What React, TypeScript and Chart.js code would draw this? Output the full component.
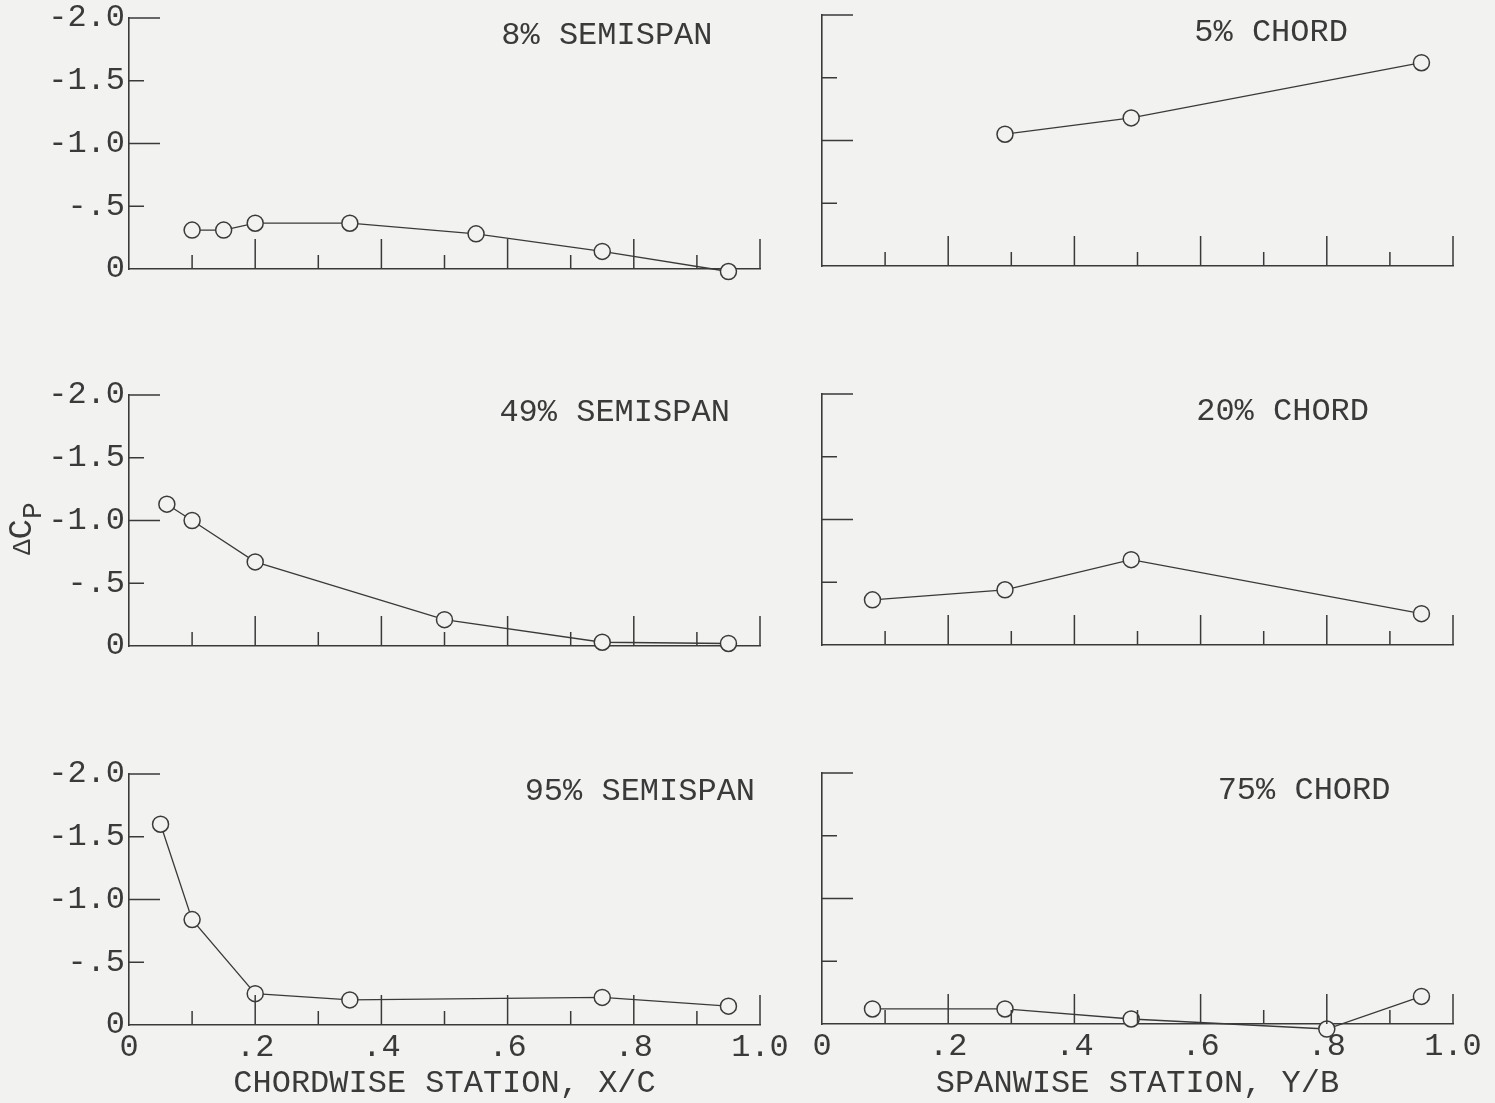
import React, { useEffect, useRef } from 'react';
import { Chart, registerables } from 'chart.js';

Chart.register(...registerables);

const BG = '#f2f2f0';
const INK = '#3a3a3a';
const FONT = '"Liberation Mono", "DejaVu Sans Mono", monospace';

// Axis ticks (values and printed labels)
const Y_TICK_VALUES = [-2, -1.5, -1, -0.5, 0];
const Y_TICK_LABELS = ['-2.0', '-1.5', '-1.0', '-.5', '0'];
const X_TICK_VALUES = [0, 0.2, 0.4, 0.6, 0.8, 1.0];
const X_TICK_LABELS = ['0', '.2', '.4', '.6', '.8', '1.0'];

// Chordwise distributions (x/c, delta Cp)
const CHORD_8 = [0.10, 0.15, 0.20, 0.35, 0.55, 0.75, 0.95];
const DCP_8 = [-0.31, -0.31, -0.365, -0.365, -0.28, -0.14, 0.02];
const CHORD_49 = [0.06, 0.10, 0.20, 0.50, 0.75, 0.95];
const DCP_49 = [-1.13, -1.0, -0.67, -0.21, -0.03, -0.02];
const CHORD_95 = [0.05, 0.10, 0.20, 0.35, 0.75, 0.95];
const DCP_95 = [-1.6, -0.84, -0.25, -0.2, -0.22, -0.15];

// Spanwise distributions (y/b, delta Cp)
const SPAN_5 = [0.29, 0.49, 0.95];
const DCP_5 = [-1.05, -1.18, -1.62];
const SPAN_20 = [0.08, 0.29, 0.49, 0.95];
const DCP_20 = [-0.36, -0.44, -0.68, -0.25];
const SPAN_75 = [0.08, 0.29, 0.49, 0.80, 0.95];
const DCP_75 = [-0.12, -0.12, -0.04, 0.04, -0.22];

const X_TITLE_LEFT = 'CHORDWISE STATION, X/C';
const X_TITLE_RIGHT = 'SPANWISE STATION, Y/B';
const Y_TITLE = ['\u0394', 'C', 'P'];

const AREA_W = 631;
const AREA_H = 251;
const PAD_TOP = 40;
const PAD_RIGHT = 40;
const MAJOR_LEN = 30;
const MINOR_LEN = 14;

type PanelDef = {
  title: string;
  xs: number[];
  ys: number[];
  canvasLeft: number;
  areaLeft: number;
  areaTop: number;
  last: boolean;
  yLabels: boolean;
  xTitle: string;
  titleAt: number;
  yTitle?: boolean;
};

const PANELS: PanelDef[] = [
  { title: '8% SEMISPAN', xs: CHORD_8, ys: DCP_8, canvasLeft: 0, areaLeft: 129, areaTop: 18, last: false, yLabels: true, xTitle: '', titleAt: 0.59 },
  { title: '5% CHORD', xs: SPAN_5, ys: DCP_5, canvasLeft: 780, areaLeft: 822, areaTop: 15, last: false, yLabels: false, xTitle: '', titleAt: 0.59 },
  { title: '49% SEMISPAN', xs: CHORD_49, ys: DCP_49, canvasLeft: 0, areaLeft: 129, areaTop: 395, last: false, yLabels: true, xTitle: '', titleAt: 0.587, yTitle: true },
  { title: '20% CHORD', xs: SPAN_20, ys: DCP_20, canvasLeft: 780, areaLeft: 822, areaTop: 394, last: false, yLabels: false, xTitle: '', titleAt: 0.593 },
  { title: '95% SEMISPAN', xs: CHORD_95, ys: DCP_95, canvasLeft: 0, areaLeft: 129, areaTop: 774, last: true, yLabels: true, xTitle: X_TITLE_LEFT, titleAt: 0.627 },
  { title: '75% CHORD', xs: SPAN_75, ys: DCP_75, canvasLeft: 780, areaLeft: 822, areaTop: 773, last: true, yLabels: false, xTitle: X_TITLE_RIGHT, titleAt: 0.627 },
];

const PAGE_H = 1103;

function lookup(values: number[], labels: string[], v: number): string {
  const i = values.findIndex((t) => Math.abs(t - v) < 1e-6);
  return i >= 0 ? labels[i] : '';
}

function Panel({ p }: { p: PanelDef }) {
  const ref = useRef<HTMLCanvasElement | null>(null);
  const yAxisW = p.areaLeft - p.canvasLeft;
  const areaBottom = p.areaTop + AREA_H;
  const xAxisH = p.last ? PAGE_H - areaBottom : 10;
  const padBottom = p.last ? 0 : 20;
  const cw = yAxisW + AREA_W + PAD_RIGHT;
  const ch = PAD_TOP + AREA_H + xAxisH + padBottom;
  const top = p.areaTop - PAD_TOP;

  useEffect(() => {
    if (!ref.current) return;
    const innerTicks = {
      id: 'innerTicks',
      afterDatasetsDraw(chart: any) {
        const { ctx, chartArea, scales } = chart;
        const x = scales.x;
        const y = scales.y;
        ctx.save();
        ctx.strokeStyle = INK;
        ctx.lineWidth = 1.5;
        ctx.beginPath();
        for (let i = 1; i <= 10; i++) {
          const px = x.getPixelForValue(i / 10);
          const len = i % 2 === 0 ? MAJOR_LEN : MINOR_LEN;
          ctx.moveTo(px, chartArea.bottom);
          ctx.lineTo(px, chartArea.bottom - len);
        }
        for (let j = 1; j <= 4; j++) {
          const py = y.getPixelForValue(-j * 0.5);
          const len = j % 2 === 0 ? MAJOR_LEN + 1 : MINOR_LEN + 1;
          ctx.moveTo(chartArea.left, py);
          ctx.lineTo(chartArea.left + len, py);
        }
        ctx.stroke();
        ctx.restore();
      },
    };
    const texts = {
      id: 'panelTexts',
      afterDraw(chart: any) {
        const { ctx, chartArea, scales } = chart;
        ctx.save();
        ctx.fillStyle = INK;
        ctx.font = `32px ${FONT}`;
        ctx.textAlign = 'left';
        ctx.textBaseline = 'middle';
        ctx.fillText(p.title, scales.x.getPixelForValue(p.titleAt), chartArea.top + 18);
        if (p.yTitle) {
          ctx.translate(chartArea.left - 106, chartArea.top + 133);
          ctx.rotate(-Math.PI / 2);
          let tx = -27;
          ctx.font = `26px ${FONT}`;
          ctx.fillText(Y_TITLE[0], tx, 0);
          tx += ctx.measureText(Y_TITLE[0]).width;
          ctx.font = `34px ${FONT}`;
          ctx.fillText(Y_TITLE[1], tx, -1);
          tx += ctx.measureText(Y_TITLE[1]).width;
          ctx.font = `28px ${FONT}`;
          ctx.fillText(Y_TITLE[2], tx, 11);
        }
        ctx.restore();
      },
    };
    const points = p.xs.map((xv, i) => ({ x: xv, y: p.ys[i] }));
    const chart = new Chart(ref.current, {
      type: 'line',
      data: {
        datasets: [
          {
            data: points,
            borderColor: INK,
            borderWidth: 1.3,
            tension: 0,
            fill: false,
            pointStyle: 'circle',
            pointRadius: 8,
            pointBorderWidth: 1.5,
            pointBorderColor: INK,
            pointBackgroundColor: BG,
            clip: false,
          } as any,
        ],
      },
      options: {
        animation: false,
        responsive: false,
        devicePixelRatio: 1,
        events: [],
        layout: { padding: { left: 0, right: PAD_RIGHT, top: PAD_TOP, bottom: padBottom } },
        plugins: {
          legend: { display: false },
          tooltip: { enabled: false },
          title: { display: false },
        },
        scales: {
          x: {
            type: 'linear',
            position: 'bottom',
            min: 0,
            max: 1,
            afterFit: (s: any) => {
              s.height = xAxisH;
            },
            grid: { display: true, drawOnChartArea: false, drawTicks: false, color: INK },
            border: { display: true, color: INK, width: 1.6 },
            ticks: {
              display: p.last,
              stepSize: 0.2,
              padding: 3,
              autoSkip: false,
              maxRotation: 0,
              color: INK,
              font: { family: FONT, size: 32 },
              callback: (v: any) => lookup(X_TICK_VALUES, X_TICK_LABELS, Number(v)),
            },
            title: {
              display: !!p.xTitle,
              text: p.xTitle,
              color: INK,
              font: { family: FONT, size: 32 },
              padding: { top: 0, bottom: 0 },
            },
          },
          y: {
            type: 'linear',
            min: -2,
            max: 0,
            reverse: true,
            afterFit: (s: any) => {
              s.width = yAxisW;
            },
            grid: { display: true, drawOnChartArea: false, drawTicks: false, color: INK },
            border: { display: true, color: INK, width: 1.6 },
            ticks: {
              display: p.yLabels,
              stepSize: 0.5,
              padding: 4,
              color: INK,
              font: { family: FONT, size: 32 },
              callback: (v: any) => lookup(Y_TICK_VALUES, Y_TICK_LABELS, Number(v)),
            },
          },
        },
      } as any,
      plugins: [innerTicks, texts],
    });
    return () => chart.destroy();
  }, []);

  return (
    <canvas
      ref={ref}
      width={cw}
      height={ch}
      style={{ position: 'absolute', left: p.canvasLeft, top, width: cw, height: ch }}
    />
  );
}

export default function App() {
  return (
    <div
      style={{
        position: 'fixed',
        left: 0,
        top: 0,
        width: 1495,
        height: 1103,
        background: BG,
        overflow: 'hidden',
      }}
    >
      {PANELS.map((p, i) => (
        <Panel key={i} p={p} />
      ))}
    </div>
  );
}
